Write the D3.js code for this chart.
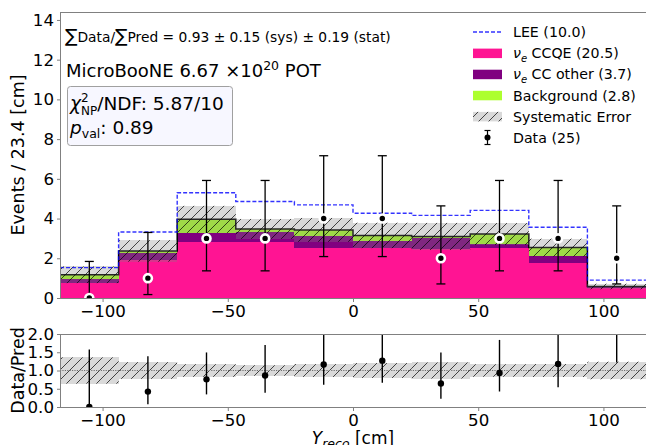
<!DOCTYPE html>
<html>
<head>
<meta charset="utf-8">
<script src="https://cdn.jsdelivr.net/npm/d3@7"></script>
<style>
  body { margin: 0; background: #fff; }
  svg { display: block; font-family: "DejaVu Sans", sans-serif; }
  text { white-space: pre; fill: #000; }
</style>
</head>
<body>
<svg id="chart" width="646" height="445"></svg>
<script>
// ---- data ----------------------------------------------------------------
const binEdges   = [-117, -93.6, -70.2, -46.8, -23.4, 0, 23.4, 46.8, 70.2, 93.6, 117];
const nueCCQE    = [0.78, 1.90, 2.83, 2.80, 2.50, 2.50, 2.45, 2.50, 1.74, 0.50];
const nueCCOther = [0.17, 0.35, 0.46, 0.53, 0.62, 0.37, 0.55, 0.22, 0.38, 0.05];
const background = [0.22, 0.12, 0.67, 0.15, 0.31, 0.28, 0.10, 0.50, 0.42, 0.03];
const leeExcess  = [0.36, 0.95, 1.34, 1.38, 1.26, 1.12, 1.06, 1.19, 1.02, 0.32];
const sysError   = [0.42, 0.54, 0.68, 0.50, 0.60, 0.64, 0.68, 0.55, 0.45, 0.14];
const dataCounts = [0, 1, 3, 3, 4, 4, 2, 3, 3, 2];
// Poisson 68% interval half-widths for the observed counts
const dataErrLow  = [0, 0.827, 1.633, 1.633, 1.914, 1.914, 1.292, 1.633, 1.633, 1.292];
const dataErrHigh = [1.841, 2.300, 2.918, 2.918, 3.163, 3.163, 2.638, 2.918, 2.918, 2.638];

const xTicks      = [-100, -50, 0, 50, 100];
const yTicks      = [0, 2, 4, 6, 8, 10, 12, 14];
const ratioTicks  = [0, 0.5, 1.0, 1.5, 2.0];

const legendLabels = ["LEE (10.0)", "CCQE (20.5)", "CC other (3.7)", "Background (2.8)", "Systematic Error", "Data (25)"];
const colors = { ccqe: "#ff1493", other: "#800080", bkg: "#adff2f", lee: "#0000ff" };

// ---- layout ----------------------------------------------------------------
const plotL = 60, plotR = 646;
const mainTop = 12, mainBot = 298;
const ratTop = 334, ratBot = 407;
const spine = "#808080";

const svg = d3.select("#chart");
const x  = d3.scaleLinear().domain([binEdges[0], binEdges[binEdges.length - 1]]).range([plotL, plotR]);
const y  = d3.scaleLinear().domain([0, 14.4]).range([mainBot, mainTop]);
const yr = d3.scaleLinear().domain([0, 2]).range([ratBot, ratTop]);

const bins = binEdges.slice(0, -1).map((lo, i) => {
  const total = nueCCQE[i] + nueCCOther[i] + background[i];
  return {
    lo, hi: binEdges[i + 1], mid: (lo + binEdges[i + 1]) / 2,
    ccqe: nueCCQE[i], other: nueCCOther[i], bkg: background[i],
    total, lee: total + leeExcess[i], sys: sysError[i],
    n: dataCounts[i], errLo: dataErrLow[i], errHi: dataErrHigh[i]
  };
});

// ---- defs: hatch + clips ----------------------------------------------------
const defs = svg.append("defs");
const hatch = defs.append("pattern").attr("id", "hatch")
  .attr("patternUnits", "userSpaceOnUse").attr("width", 10).attr("height", 10);
hatch.append("path")
  .attr("d", "M0,10 L10,0 M-2,2 L2,-2 M8,12 L12,8")
  .attr("stroke", "#000").attr("stroke-width", 0.7).attr("fill", "none");
defs.append("clipPath").attr("id", "clipMain").append("rect")
  .attr("x", plotL).attr("y", mainTop).attr("width", plotR - plotL).attr("height", mainBot - mainTop);
defs.append("clipPath").attr("id", "clipRatio").append("rect")
  .attr("x", plotL).attr("y", ratTop).attr("width", plotR - plotL).attr("height", ratBot - ratTop);

// ---- main panel ----------------------------------------------------------------
const main = svg.append("g").attr("clip-path", "url(#clipMain)");

const stacked = d3.stack().keys(["ccqe", "other", "bkg"])(bins);
main.selectAll("g.layer").data(stacked).join("g").attr("class", "layer")
  .attr("fill", d => colors[d.key])
  .selectAll("rect").data(d => d).join("rect")
  .attr("shape-rendering", "crispEdges")
  .attr("x", d => x(d.data.lo)).attr("width", d => x(d.data.hi) - x(d.data.lo))
  .attr("y", d => y(d[1])).attr("height", d => y(d[0]) - y(d[1]));

const stepLine = (scale, acc) => d3.line()
  .x(d => x(d[0])).y(d => scale(d[1])).curve(d3.curveStepAfter)(
    binEdges.map((e, i) => [e, acc(bins[Math.min(i, bins.length - 1)])]));

main.append("path").attr("d", stepLine(y, b => b.total))
  .attr("fill", "none").attr("stroke", "#000").attr("stroke-width", 1.5);

// systematic band
const band = main.append("g");
band.selectAll("rect.fill").data(bins).join("rect").attr("class", "fill")
  .attr("x", d => x(d.lo)).attr("width", d => x(d.hi) - x(d.lo))
  .attr("y", d => y(d.total + d.sys)).attr("height", d => y(d.total - d.sys) - y(d.total + d.sys))
  .attr("fill", "#808080").attr("fill-opacity", 0.3).attr("shape-rendering", "crispEdges");
band.selectAll("rect.hatch").data(bins).join("rect").attr("class", "hatch")
  .attr("x", d => x(d.lo)).attr("width", d => x(d.hi) - x(d.lo))
  .attr("y", d => y(d.total + d.sys)).attr("height", d => y(d.total - d.sys) - y(d.total + d.sys))
  .attr("fill", "url(#hatch)");

// LEE expectation
main.append("path").attr("d", stepLine(y, b => b.lee))
  .attr("fill", "none").attr("stroke", colors.lee).attr("stroke-opacity", 0.8)
  .attr("stroke-width", 1.4).attr("stroke-dasharray", "4,2");

// data points
const pts = main.append("g");
pts.selectAll("line.err").data(bins).join("line").attr("class", "err")
  .attr("x1", d => x(d.mid)).attr("x2", d => x(d.mid))
  .attr("y1", d => y(d.n + d.errHi)).attr("y2", d => y(d.n - d.errLo))
  .attr("stroke", "#000").attr("stroke-width", 1.3);
pts.selectAll("line.capT").data(bins).join("line").attr("class", "capT")
  .attr("x1", d => x(d.mid) - 4.5).attr("x2", d => x(d.mid) + 4.5)
  .attr("y1", d => y(d.n + d.errHi)).attr("y2", d => y(d.n + d.errHi))
  .attr("stroke", "#000").attr("stroke-width", 1.3);
pts.selectAll("line.capB").data(bins).join("line").attr("class", "capB")
  .attr("x1", d => x(d.mid) - 4.5).attr("x2", d => x(d.mid) + 4.5)
  .attr("y1", d => y(d.n - d.errLo)).attr("y2", d => y(d.n - d.errLo))
  .attr("stroke", "#000").attr("stroke-width", 1.3);
pts.selectAll("circle").data(bins).join("circle")
  .attr("cx", d => x(d.mid)).attr("cy", d => y(d.n)).attr("r", 4)
  .attr("fill", "#000").attr("stroke", "#fff").attr("stroke-width", 2.6);

// main axes
const axMain = svg.append("g");
axMain.append("line").attr("x1", plotL).attr("x2", plotR).attr("y1", mainTop + 0.5).attr("y2", mainTop + 0.5).attr("stroke", spine);
axMain.append("line").attr("x1", plotL).attr("x2", plotR).attr("y1", mainBot + 0.5).attr("y2", mainBot + 0.5).attr("stroke", spine);
axMain.append("line").attr("x1", plotL + 0.5).attr("x2", plotL + 0.5).attr("y1", mainTop).attr("y2", mainBot).attr("stroke", spine);

function styleAxis(g) {
  g.select(".domain").remove();
  g.selectAll(".tick line").attr("stroke", spine);
  g.selectAll(".tick text").attr("font-size", 16.67).attr("font-family", "DejaVu Sans").attr("fill", "#000");
}
const minusFmt = d => d < 0 ? "\u2212" + Math.abs(d) : String(d);
svg.append("g").attr("transform", `translate(${plotL + 0.5},0)`)
  .call(d3.axisLeft(y).tickValues(yTicks).tickSize(3.5).tickPadding(3).tickFormat(d3.format("d")))
  .call(styleAxis);
svg.append("g").attr("transform", `translate(0,${mainBot + 0.5})`)
  .call(d3.axisBottom(x).tickValues(xTicks).tickSize(3.5).tickPadding(3).tickFormat(minusFmt))
  .call(styleAxis);

// ---- ratio panel ----------------------------------------------------------------
const ratio = svg.append("g").attr("clip-path", "url(#clipRatio)");
ratio.selectAll("rect.fill").data(bins).join("rect").attr("class", "fill")
  .attr("x", d => x(d.lo)).attr("width", d => x(d.hi) - x(d.lo))
  .attr("y", d => yr(1 + d.sys / d.total)).attr("height", d => yr(1 - d.sys / d.total) - yr(1 + d.sys / d.total))
  .attr("fill", "#808080").attr("fill-opacity", 0.3).attr("shape-rendering", "crispEdges");
ratio.selectAll("rect.hatch").data(bins).join("rect").attr("class", "hatch")
  .attr("x", d => x(d.lo)).attr("width", d => x(d.hi) - x(d.lo))
  .attr("y", d => yr(1 + d.sys / d.total)).attr("height", d => yr(1 - d.sys / d.total) - yr(1 + d.sys / d.total))
  .attr("fill", "url(#hatch)");
ratio.append("line").attr("x1", plotL).attr("x2", plotR).attr("y1", yr(1)).attr("y2", yr(1))
  .attr("stroke", "#707070").attr("stroke-width", 1).attr("stroke-dasharray", "1.2,1.2");
ratio.selectAll("line.err").data(bins).join("line").attr("class", "err")
  .attr("x1", d => x(d.mid)).attr("x2", d => x(d.mid))
  .attr("y1", d => yr((d.n + d.errHi) / d.total)).attr("y2", d => yr((d.n - d.errLo) / d.total))
  .attr("stroke", "#000").attr("stroke-width", 1.4);
ratio.selectAll("circle").data(bins).join("circle")
  .attr("cx", d => x(d.mid)).attr("cy", d => yr(d.n / d.total)).attr("r", 3.2).attr("fill", "#000");

svg.append("line").attr("x1", plotL).attr("x2", plotR).attr("y1", ratTop + 0.5).attr("y2", ratTop + 0.5).attr("stroke", spine);
svg.append("line").attr("x1", plotL).attr("x2", plotR).attr("y1", ratBot + 0.5).attr("y2", ratBot + 0.5).attr("stroke", spine);
svg.append("line").attr("x1", plotL + 0.5).attr("x2", plotL + 0.5).attr("y1", ratTop).attr("y2", ratBot).attr("stroke", spine);
svg.append("g").attr("transform", `translate(${plotL + 0.5},0)`)
  .call(d3.axisLeft(yr).tickValues(ratioTicks).tickSize(3.5).tickPadding(3).tickFormat(d3.format(".1f")))
  .call(styleAxis);
svg.append("g").attr("transform", `translate(0,${ratBot + 0.5})`)
  .call(d3.axisBottom(x).tickValues(xTicks).tickSize(3.5).tickPadding(3).tickFormat(minusFmt))
  .call(styleAxis);

// ---- rich text helper ----------------------------------------------------------
function rich(g, x0, y0, parts, size) {
  let cx = x0;
  parts.forEach(p => {
    const items = p.stack || [p];
    let w = 0;
    items.forEach(s => {
      const t = g.append("text").attr("x", cx).attr("y", y0 + (s.shift || 0))
        .attr("font-size", s.size || size).attr("font-style", s.italic ? "italic" : null).text(s.text);
      w = Math.max(w, t.node().getComputedTextLength());
    });
    cx += w;
  });
  return cx - x0;
}

// axis titles
svg.append("text").attr("transform", `translate(24,${(mainTop + mainBot) / 2}) rotate(-90)`)
  .attr("text-anchor", "middle").attr("font-size", 17.5).text("Events / 23.4 [cm]");
svg.append("text").attr("transform", `translate(24,${(ratTop + ratBot) / 2}) rotate(-90)`)
  .attr("text-anchor", "middle").attr("font-size", 17.5).text("Data/Pred");
{
  const g = svg.append("g");
  const w = rich(g, 0, 444, [
    { text: "Y", italic: true },
    { text: "reco", italic: true, size: 12.5, shift: 3.5 },
    { text: " [cm]" }
  ], 17);
  g.attr("transform", `translate(${x(0) - w / 2},0)`);
}

// ---- annotations ----------------------------------------------------------------
rich(svg.append("g"), 65, 42, [
  { text: "\u2211", size: 18.5 },
  { text: "Data/" },
  { text: "\u2211", size: 18.5 },
  { text: "Pred = 0.93 \u00b1 0.15 (sys) \u00b1 0.19 (stat)" }
], 13.8);
rich(svg.append("g"), 66, 77, [
  { text: "MicroBooNE 6.67 \u00d710" },
  { text: "20", size: 12.5, shift: -7 },
  { text: " POT" }
], 18);

svg.append("rect").attr("x", 67.5).attr("y", 86.5).attr("width", 165).attr("height", 59).attr("rx", 3)
  .attr("fill", "#f7f7ff").attr("stroke", "#a0a0a0").attr("stroke-width", 1);
rich(svg.append("g"), 70, 110, [
  { text: "\u03c7", italic: true },
  { stack: [{ text: "2", size: 12, shift: -8 }, { text: "NP", size: 12, shift: 5 }] },
  { text: "/NDF: 5.87/10" }
], 18.5);
rich(svg.append("g"), 70, 134, [
  { text: "p", italic: true },
  { text: "val", size: 12.5, shift: 4 },
  { text: ": 0.89" }
], 18.5);

// ---- legend ----------------------------------------------------------------
const leg = svg.append("g");
const rowY = i => 32 + i * 21.1;
const hx0 = 473, hx1 = 502, tx = 513, fs = 14.2;
leg.append("line").attr("x1", hx0).attr("x2", hx1).attr("y1", rowY(0)).attr("y2", rowY(0))
  .attr("stroke", colors.lee).attr("stroke-opacity", 0.8).attr("stroke-width", 1.4).attr("stroke-dasharray", "4,2");
[colors.ccqe, colors.other, colors.bkg].forEach((c, k) => {
  leg.append("rect").attr("x", hx0).attr("y", rowY(k + 1) - 4.5).attr("width", hx1 - hx0).attr("height", 9.5).attr("fill", c);
});
leg.append("rect").attr("x", hx0).attr("y", rowY(4) - 4.5).attr("width", hx1 - hx0).attr("height", 9.5).attr("fill", "#808080").attr("fill-opacity", 0.3);
leg.append("rect").attr("x", hx0).attr("y", rowY(4) - 4.5).attr("width", hx1 - hx0).attr("height", 9.5).attr("fill", "url(#hatch)");
{
  const cx = (hx0 + hx1) / 2, cy = rowY(5);
  leg.append("line").attr("x1", cx).attr("x2", cx).attr("y1", cy - 7).attr("y2", cy + 7).attr("stroke", "#000").attr("stroke-width", 1.2);
  leg.append("line").attr("x1", cx - 3).attr("x2", cx + 3).attr("y1", cy - 7).attr("y2", cy - 7).attr("stroke", "#000").attr("stroke-width", 1.2);
  leg.append("line").attr("x1", cx - 3).attr("x2", cx + 3).attr("y1", cy + 7).attr("y2", cy + 7).attr("stroke", "#000").attr("stroke-width", 1.2);
  leg.append("circle").attr("cx", cx).attr("cy", cy).attr("r", 3).attr("fill", "#000");
}
legendLabels.forEach((lab, i) => {
  const parts = (i === 1 || i === 2)
    ? [{ text: "\u03bd", italic: true }, { text: "e", italic: true, size: 10, shift: 3.5 }, { text: " " + lab }]
    : [{ text: lab }];
  rich(leg, tx, rowY(i) + 5.2, parts, fs);
});
</script>
</body>
</html>
